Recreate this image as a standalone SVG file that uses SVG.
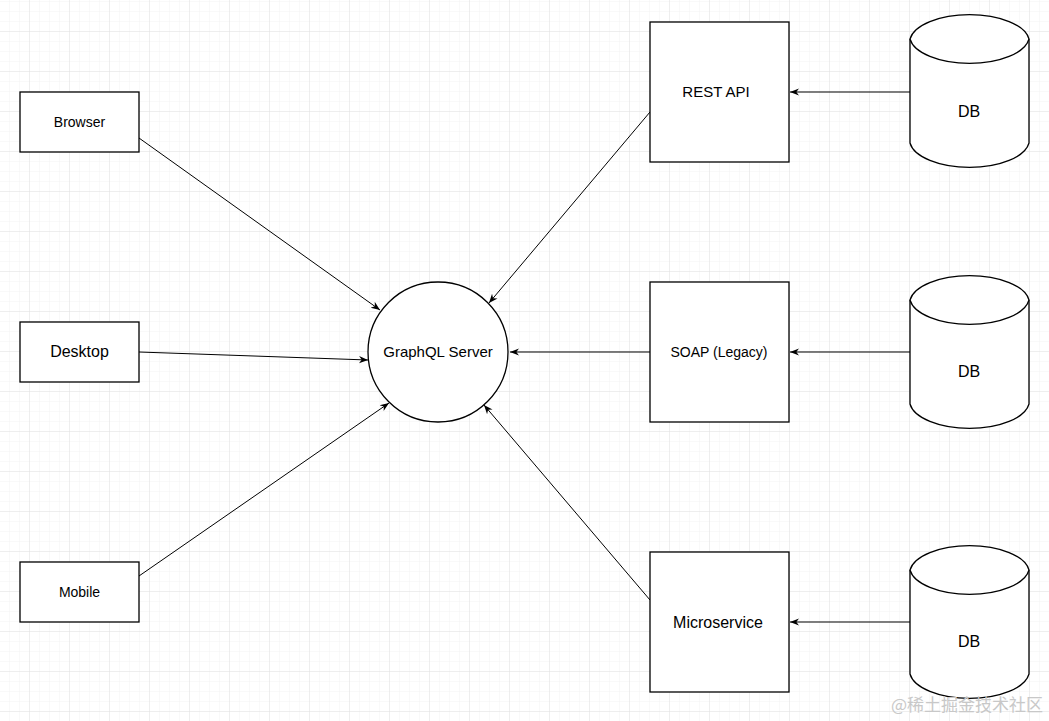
<svg xmlns="http://www.w3.org/2000/svg" width="1049" height="721" viewBox="0 0 1049 721">
<defs>
<pattern id="minor" x="0" y="2" width="10" height="10" patternUnits="userSpaceOnUse"><path d="M10 0V10M0 10H10" fill="none" stroke="#f3f3f3" stroke-width="1"/></pattern>
<pattern id="major" x="-10" y="-8" width="40" height="40" patternUnits="userSpaceOnUse"><path d="M40 0V40M0 40H40" fill="none" stroke="#e2e2e2" stroke-width="1"/></pattern>
<marker id="ar" viewBox="0 0 10 10" refX="10" refY="5" markerWidth="9" markerHeight="9" orient="auto"><path d="M0 1L10 5L0 9L3 5Z" fill="#000"/></marker>
</defs>
<style>
.n{fill:#fff;stroke:#000;stroke-width:1.3}
.t{font-family:"Liberation Sans",Arial,sans-serif;font-size:15px;text-anchor:middle;dominant-baseline:central}
.b{font-size:16px}
.s{font-size:14px}
.c{stroke:#000;stroke-width:1;fill:none;marker-end:url(#ar)}
</style>
<rect width="1049" height="721" fill="#fff"/>
<rect width="1049" height="721" fill="url(#minor)"/>
<rect width="1049" height="721" fill="url(#major)"/>
<g id="connectors">
<line class="c" x1="139" y1="138" x2="380" y2="310"/>
<line class="c" x1="139" y1="352" x2="368" y2="360"/>
<line class="c" x1="139" y1="576" x2="389" y2="403"/>
<line class="c" x1="650" y1="112" x2="489" y2="303"/>
<line class="c" x1="650" y1="352" x2="510" y2="352"/>
<line class="c" x1="650" y1="600" x2="484" y2="405"/>
<line class="c" x1="910" y1="92" x2="790" y2="92"/>
<line class="c" x1="910" y1="352" x2="790" y2="352"/>
<line class="c" x1="910" y1="622" x2="790" y2="622"/>
</g>
<g id="browser"><rect class="n" x="20" y="92" width="119" height="60"/><text class="t s" x="79.5" y="122">Browser</text></g>
<g id="desktop"><rect class="n" x="20" y="322" width="119" height="60"/><text class="t b" x="79.5" y="351">Desktop</text></g>
<g id="mobile"><rect class="n" x="20" y="562" width="119" height="60"/><text class="t s" x="79.5" y="592">Mobile</text></g>
<g id="graphql"><circle class="n" cx="438" cy="352" r="70"/><text class="t" x="438" y="351">GraphQL Server</text></g>
<g id="rest"><rect class="n" x="650" y="22" width="139" height="140"/><text class="t" x="716" y="91">REST API</text></g>
<g id="soap"><rect class="n" x="650" y="282" width="139" height="140"/><text class="t s" x="719" y="352">SOAP (Legacy)</text></g>
<g id="micro"><rect class="n" x="650" y="552" width="139" height="140"/><text class="t b" x="718" y="622">Microservice</text></g>
<g id="db1"><path class="n" d="M910 39A60 28 0 0 1 1029 39V143A60 28 0 0 1 910 143Z"/><path class="n" d="M910 39A60 28 0 0 0 1029 39" fill="none"/><text class="t b" x="969" y="111">DB</text></g>
<g id="db2"><path class="n" d="M910 300A60 28 0 0 1 1029 300V404A60 28 0 0 1 910 404Z"/><path class="n" d="M910 300A60 28 0 0 0 1029 300" fill="none"/><text class="t b" x="969" y="371">DB</text></g>
<g id="db3"><path class="n" d="M910 570A60 28 0 0 1 1029 570V674A60 28 0 0 1 910 674Z"/><path class="n" d="M910 570A60 28 0 0 0 1029 570" fill="none"/><text class="t b" x="969" y="641">DB</text></g>
<text x="1043" y="711" style="font-family:'Noto Sans CJK SC',sans-serif;font-size:17px;text-anchor:end;fill:#c8c8c8">@稀土掘金技术社区</text>
</svg>
